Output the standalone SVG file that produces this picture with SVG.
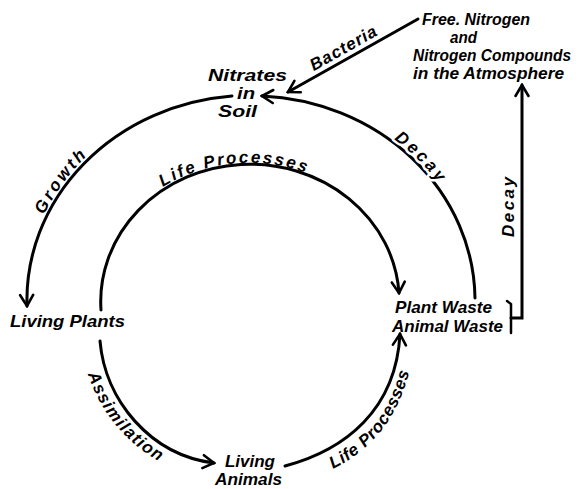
<svg xmlns="http://www.w3.org/2000/svg" width="578" height="489" viewBox="0 0 578 489">
<style>
.t{font-family:"Liberation Sans",Arial,sans-serif;font-style:italic;font-weight:bold;font-size:17px;fill:#000}
.s{font-size:16px}
.c{fill:none;stroke:#000;stroke-width:3;stroke-linecap:round}
.h{paint-order:stroke;stroke:#fff;stroke-width:5px;stroke-linejoin:round}
</style>
<defs>
<marker id="ah" viewBox="-14 -9 16 18" refX="0" refY="0" markerWidth="16" markerHeight="18" markerUnits="userSpaceOnUse" orient="auto">
<path d="M-11,-6.5 L0,0 L-11,6.5" fill="none" stroke="#000" stroke-width="2.6" stroke-linecap="round"/>
</marker>
<path id="pGrowth" d="M44,215 A227,208 0 0 1 108,138"/>
<path id="pDecay" d="M394,139 A225,206 0 0 1 452,204"/>
<path id="pLife1" d="M163,187 A154,142 0 0 1 330,184"/>
<path id="pAssim" d="M88,374 C100,412 128,448 175,470"/>
<path id="pLife2" d="M333,469 C370,450 400,420 412,360"/>
</defs>
<rect width="578" height="489" fill="#fff"/>

<g id="connectors">
<path id="growth" class="c" d="M232,96 A224,205 0 0 0 27,306" marker-end="url(#ah)"/>
<path id="decay1" class="c" d="M475,298 A224,205 0 0 0 262,96" marker-end="url(#ah)"/>
<path id="life1" class="c" d="M101,310 A149,137 0 0 1 399,293" marker-end="url(#ah)"/>
<path id="assim" class="c" d="M100,341 C105,400 150,455 214,463" marker-end="url(#ah)"/>
<path id="life2" class="c" d="M285,466 C345,450 396,410 400,334" marker-end="url(#ah)"/>
<path id="bacteria" class="c" d="M418,19 L288,92" marker-end="url(#ah)"/>
<path id="bracket" class="c" d="M507,301 L511,304 V333" style="stroke-width:2.5"/>
<path id="decay2" class="c" d="M511,318 H522 V85" marker-end="url(#ah)"/>

<text class="t" style="letter-spacing:1px"><textPath href="#pGrowth" textLength="74">Growth</textPath></text>
<text class="t h"><textPath href="#pDecay" textLength="62">Decay</textPath></text>
<text class="t"><textPath href="#pLife1" textLength="148">Life Processes</textPath></text>
<text class="t"><textPath href="#pAssim" textLength="115">Assimilation</textPath></text>
<text class="t"><textPath href="#pLife2" textLength="128">Life Processes</textPath></text>
<text class="t" x="346" y="53" text-anchor="middle" textLength="74" transform="rotate(-29.5 346 53)">Bacteria</text>
<text class="t" x="514" y="207" text-anchor="middle" textLength="60" transform="rotate(-90 514 207)">Decay</text>
</g>

<g id="nitrates">
<text class="t" x="208" y="81" textLength="79" lengthAdjust="spacingAndGlyphs">Nitrates</text>
<text class="t" x="237" y="99" textLength="18" lengthAdjust="spacingAndGlyphs">in</text>
<text class="t" x="218" y="117" textLength="39" lengthAdjust="spacingAndGlyphs">Soil</text>
</g>

<g id="atmosphere">
<text class="t s" x="422" y="25" textLength="108" lengthAdjust="spacingAndGlyphs">Free. Nitrogen</text>
<text class="t s" x="450" y="43" textLength="27" lengthAdjust="spacingAndGlyphs">and</text>
<text class="t s" x="413" y="61" textLength="158" lengthAdjust="spacingAndGlyphs">Nitrogen Compounds</text>
<text class="t s" x="413" y="79" textLength="151" lengthAdjust="spacingAndGlyphs">in the Atmosphere</text>
</g>

<g id="living-plants">
<text class="t" x="10" y="327" textLength="115" lengthAdjust="spacingAndGlyphs">Living Plants</text>
</g>

<g id="waste">
<text class="t" x="395" y="313" textLength="97" lengthAdjust="spacingAndGlyphs">Plant Waste</text>
<text class="t" x="392" y="332" textLength="111" lengthAdjust="spacingAndGlyphs">Animal Waste</text>
</g>

<g id="living-animals">
<text class="t" x="225" y="467" textLength="50" lengthAdjust="spacingAndGlyphs">Living</text>
<text class="t" x="215" y="485" textLength="67" lengthAdjust="spacingAndGlyphs">Animals</text>
</g>
</svg>
